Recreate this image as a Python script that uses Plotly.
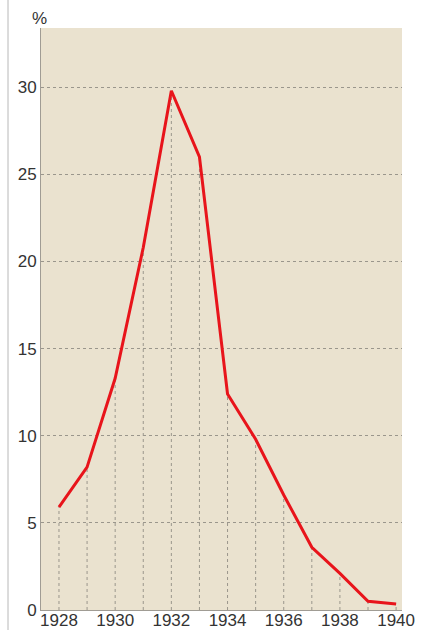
import plotly.graph_objects as go

years = [1928, 1929, 1930, 1931, 1932, 1933, 1934, 1935, 1936, 1937, 1938, 1939, 1940]
values = [5.9, 8.2, 13.3, 20.8, 29.8, 26.0, 12.4, 9.8, 6.6, 3.6, 2.1, 0.5, 0.35]
x_ticks = [1928, 1930, 1932, 1934, 1936, 1938, 1940]
y_ticks = [0, 5, 10, 15, 20, 25, 30]

drop_x, drop_y = [], []
for yr, v in zip(years, values):
    drop_x += [yr, yr, None]
    drop_y += [0, v, None]

FONT = "Liberation Sans, Arial, sans-serif"

fig = go.Figure()
fig.add_trace(go.Scatter(x=drop_x, y=drop_y, mode="lines",
                         line=dict(color="#9a968c", width=1, dash="dot"),
                         hoverinfo="skip", showlegend=False))
fig.add_trace(go.Scatter(x=years, y=values, mode="lines",
                         line=dict(color="#e8141b", width=3),
                         showlegend=False))

fig.update_layout(
    template="none",
    width=427, height=630,
    margin=dict(l=41, r=25, t=28, b=20, pad=0),
    paper_bgcolor="white",
    plot_bgcolor="#eae2cf",
    font=dict(family=FONT, size=17, color="#333333"),
    xaxis=dict(range=[1927.36, 1940.21], tickvals=x_ticks, ticktext=[str(t) for t in x_ticks],
               showgrid=False, zeroline=False, showline=True, linecolor="#a09c94", linewidth=1,
               ticks="", ticklabelstandoff=-5, automargin=False, fixedrange=True),
    yaxis=dict(range=[0, 33.4], tickvals=y_ticks, ticktext=[str(t) for t in y_ticks],
               showgrid=True, gridcolor="#9a968c", griddash="dot", gridwidth=1,
               zeroline=False, showline=True, linecolor="#a09c94", linewidth=1,
               ticks="", ticklabelstandoff=0, automargin=False, fixedrange=True),
    annotations=[dict(text="%", x=-0.003, y=1.017, xref="paper", yref="paper",
                      xanchor="center", yanchor="middle", showarrow=False,
                      font=dict(family=FONT, size=17, color="#333333"))],
    shapes=[dict(type="line", xref="paper", yref="paper", x0=-0.0914, x1=-0.0914,
                 y0=-0.04, y1=1.06, line=dict(color="#b8b8b8", width=1))],
)

fig.write_html("out.html", config={"displayModeBar": False},
               post_script="document.body.style.margin='0px';")
